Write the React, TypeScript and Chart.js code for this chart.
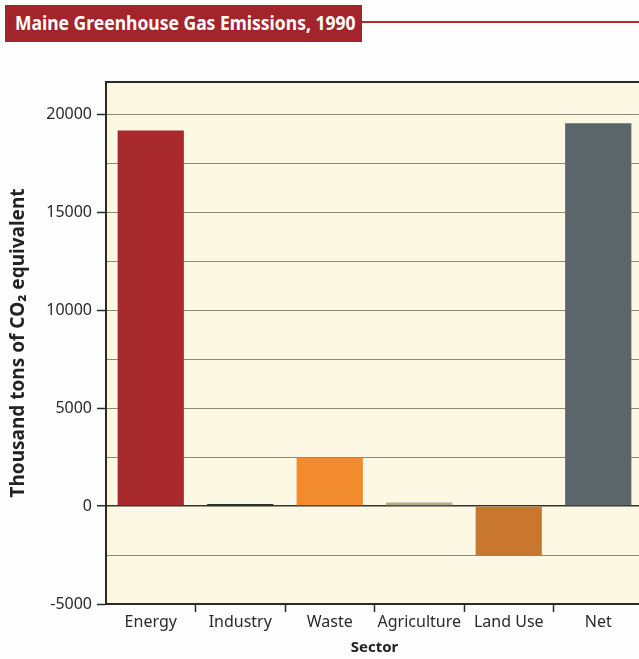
import React, { useEffect, useRef } from "react";
import { Chart, registerables } from "chart.js";

Chart.register(...registerables);

const categories = ["Energy", "Industry", "Waste", "Agriculture", "Land Use", "Net"];
const emissions = [19180, 100, 2450, 180, -2550, 19540];
const barColors = ["#a82a2c", "#2f3327", "#f28a2e", "#b0ae8c", "#c9772f", "#5b666a"];
const yGridValues = [-5000, -2500, 0, 2500, 5000, 7500, 10000, 12500, 15000, 17500, 20000];
const yLabelValues = [-5000, 0, 5000, 10000, 15000, 20000];

const FONT = "'Noto Sans', 'DejaVu Sans', sans-serif";

const plotDecor = {
  id: "plotDecor",
  beforeDraw(chart: any) {
    const { ctx, chartArea } = chart;
    ctx.save();
    ctx.fillStyle = "#fdf8e4";
    ctx.fillRect(chartArea.left, chartArea.top, chartArea.right - chartArea.left, chartArea.bottom - chartArea.top);
    ctx.restore();
  },
  afterDraw(chart: any) {
    const { ctx, chartArea } = chart;
    ctx.save();
    ctx.strokeStyle = "#2b2b26";
    ctx.lineWidth = 2;
    ctx.beginPath();
    ctx.moveTo(chartArea.left - 1, chartArea.top);
    ctx.lineTo(chartArea.right + 1, chartArea.top);
    ctx.stroke();
    ctx.restore();
  },
};

export default function App() {
  const ref = useRef<HTMLCanvasElement | null>(null);
  useEffect(() => {
    if (!ref.current) return;
    const chart = new Chart(ref.current, {
      type: "bar",
      data: {
        labels: categories,
        datasets: [
          {
            data: emissions,
            backgroundColor: barColors,
            borderWidth: 0,
            barPercentage: 0.74,
            categoryPercentage: 1,
          },
        ],
      },
      options: {
        animation: false,
        responsive: false,
        layout: { padding: { left: 0, top: 82, right: 1, bottom: 0 } },
        plugins: { legend: { display: false }, tooltip: { enabled: false } },
        scales: {
          x: {
            offset: true,
            grid: {
              display: true,
              offset: true,
              drawOnChartArea: false,
              tickLength: 8,
              tickWidth: 1.5,
              tickColor: (c: any) => (c.index === 0 ? "rgba(0,0,0,0)" : "#2b2b26"),
            },
            border: { display: true, color: "#2b2b26", width: 2 },
            ticks: { color: "#2a2a2a", font: { family: FONT, size: 16 }, padding: 1, maxRotation: 0, autoSkip: false },
            title: {
              display: true,
              text: "Sector",
              color: "#222",
              font: { family: FONT, size: 15, weight: "bold" },
              padding: { top: 2, bottom: 2 },
            },
            afterFit: (s: any) => {
              s.height = 55;
            },
          },
          y: {
            min: -5000,
            max: 21650,
            afterBuildTicks: (s: any) => {
              s.ticks = yGridValues.map((v) => ({ value: v }));
            },
            grid: {
              color: (c: any) => (c.tick && c.tick.value === 0 ? "#33332c" : "#8e8a78"),
              lineWidth: (c: any) => (c.tick && c.tick.value === 0 ? 1.5 : 1),
              tickLength: 9,
              tickWidth: 1.5,
              tickColor: (c: any) => (c.tick && yLabelValues.includes(c.tick.value) ? "#2b2b26" : "rgba(0,0,0,0)"),
            },
            border: { display: true, color: "#2b2b26", width: 2 },
            ticks: {
              autoSkip: false,
              color: "#2a2a2a",
              font: { family: FONT, size: 16 },
              padding: 5,
              callback: (v: any) => (yLabelValues.includes(Number(v)) ? String(v) : ""),
            },
            title: {
              display: true,
              text: "Thousand tons of CO\u2082 equivalent",
              color: "#222",
              font: { family: FONT, size: 19, weight: "bold" },
              padding: { top: 7, bottom: 4 },
            },
            afterFit: (s: any) => {
              s.width = 106;
            },
          },
        },
      },
      plugins: [plotDecor],
    } as any);
    return () => chart.destroy();
  }, []);

  return (
    <div style={{ position: "absolute", left: 0, top: 0, width: 639, height: 659, overflow: "hidden", background: "#fefefe" }}>
      <div
        style={{
          position: "absolute",
          left: 362,
          top: 21,
          width: 290,
          height: 2,
          background: "#b02a35",
        }}
      />
      <div
        style={{
          position: "absolute",
          left: 5,
          top: 5,
          width: 357,
          height: 37,
          background: "#a3252b",
          overflow: "hidden",
        }}
      >
        <span
          style={{
            position: "absolute",
            left: 10,
            top: 0,
            display: "inline-block",
            color: "#ffffff",
            fontFamily: FONT,
            fontWeight: 700,
            fontSize: 20,
            lineHeight: "36px",
            whiteSpace: "nowrap",
            transform: "scaleX(0.875)",
            transformOrigin: "left center",
          }}
        >
          Maine Greenhouse Gas Emissions, 1990
        </span>
      </div>
      <canvas ref={ref} width={644} height={659} style={{ position: "absolute", left: 0, top: 0, width: 644, height: 659 }} />
    </div>
  );
}
